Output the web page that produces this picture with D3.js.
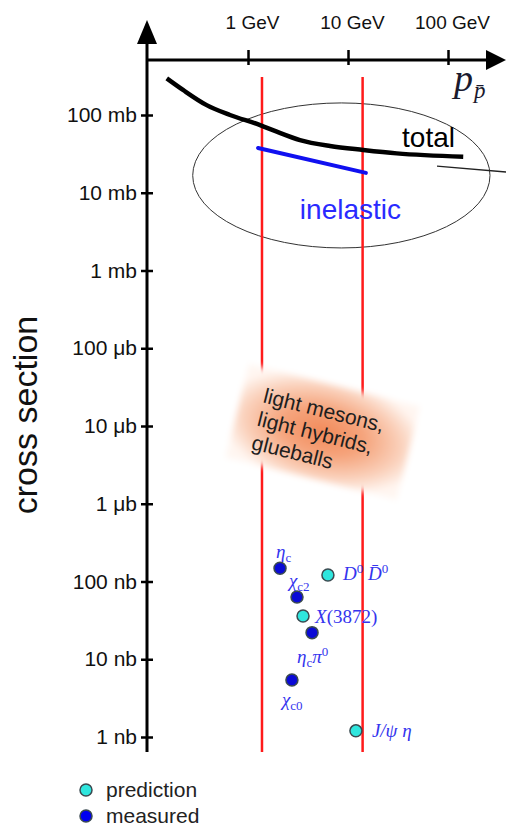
<!DOCTYPE html>
<html>
<head>
<meta charset="utf-8">
<script src="https://cdn.jsdelivr.net/npm/d3@7"></script>
<style>
  body { margin: 0; background: #fff; }
  svg { display: block; }
</style>
</head>
<body>
<div id="chart"></div>
<script>
// beam momentum ticks (GeV) and cross section decades (mb)
var P_TICKS = [1, 10, 100]
var P_LABELS = ["1 GeV", "10 GeV", "100 GeV"]
var S_TICKS = [100, 10, 1, 0.1, 0.01, 0.001, 1e-4, 1e-5, 1e-6]
var S_LABELS = ["100 mb", "10 mb", "1 mb", "100 μb", "10 μb", "1 μb", "100 nb", "10 nb", "1 nb"]

// total p-pbar cross section (p in GeV, sigma in mb)
var TOTAL_P = [0.154, 0.224, 0.386, 0.661, 1.32, 1.94, 3.31, 6.61, 14.2, 30.7, 142]
var TOTAL_S = [296, 210, 134, 100, 74.3, 61, 47.6, 39.9, 35.5, 32.1, 29.1]

// inelastic part over the momentum range
var INEL_P = [1.26, 15.1]
var INEL_S = [37.6, 18]

// momentum range (red lines), drawn from sigma top to bottom
var RANGE_P = [1.38, 14]
var RANGE_S = [308, 6.4e-7]

// charmonium channels (sigma in nb)
var CH_P = [2.09, 3.09, 6.3, 3.55, 4.37, 2.75, 12.0]
var CH_S = [148, 63, 121, 36, 22, 5.4, 1.2]
var CH_TYPE = ["measured", "measured", "prediction", "prediction", "measured", "measured", "prediction"]
var CH_LABELS = [
  [["η", "i"], ["c", "sub"]],
  [["χ", "i"], ["c2", "sub"]],
  [["D", "i"], ["0", "sup"], [" D̄", "i"], ["0", "sup"]],
  [["X", "i"], ["(3872)", "n"]],
  [["η", "i"], ["c", "sub"], ["π", "i"], ["0", "sup"]],
  [["χ", "i"], ["c0", "sub"]],
  [["J/ψ η", "i"]]
]
// label offset from its point (px)
var CH_OFFSET = [[-4, -10], [-8, -10], [15, 5], [12, 7], [-15, 30], [-10, 26], [16, 6]]

var LEGEND = ["prediction", "measured"]
var BLOB_TEXT = ["light mesons,", "light hybrids,", "glueballs"]

var width = 506, height = 827
var colors = {measured: "#0a0ad6", prediction: "#2fe6de"}

var svg = d3.select("#chart").append("svg")
  .attr("width", width)
  .attr("height", height)
  .style("font-family", "'Liberation Sans', Arial, sans-serif")

var x = d3.scaleLog().domain([0.1, 100]).range([148, 448])
var y = d3.scaleLog().domain([1e-6, 100]).range([737, 115])
var nb = function(v) { return y(v * 1e-6) }

var defs = svg.append("defs")
var grad = defs.append("radialGradient").attr("id", "glow")
  .attr("r", "60%")
grad.append("stop").attr("offset", "0%").attr("stop-color", "#f28a5a")
grad.append("stop").attr("offset", "40%").attr("stop-color", "#f5a47c")
grad.append("stop").attr("offset", "75%").attr("stop-color", "#fad0ba")
grad.append("stop").attr("offset", "100%").attr("stop-color", "#fff6f1")
defs.append("filter").attr("id", "soft")
  .attr("x", "-20%").attr("y", "-20%").attr("width", "140%").attr("height", "140%")
  .append("feGaussianBlur").attr("stdDeviation", 3)

// ellipse around the hadronic cross sections
var ex0 = x(0.28), ex1 = x(263), ey0 = y(143), ey1 = y(1.95)
svg.append("ellipse")
  .attr("cx", (ex0 + ex1) / 2).attr("cy", (ey0 + ey1) / 2)
  .attr("rx", (ex1 - ex0) / 2).attr("ry", (ey1 - ey0) / 2)
  .attr("fill", "none").attr("stroke", "#333").attr("stroke-width", 1)

svg.append("line")
  .attr("x1", x(77.6)).attr("y1", y(22))
  .attr("x2", x(380)).attr("y2", y(18.5))
  .attr("stroke", "#222").attr("stroke-width", 1.3)

// red momentum range lines
svg.selectAll("line.range")
  .data(RANGE_P)
  .enter().append("line")
  .attr("class", "range")
  .attr("x1", function(d) { return x(d) }).attr("x2", function(d) { return x(d) })
  .attr("y1", y(RANGE_S[0])).attr("y2", y(RANGE_S[1]))
  .attr("stroke", "#ff1a1a").attr("stroke-width", 2.5)

// light mesons blob (sits on top of the red lines)
var blob = svg.append("g")
  .attr("transform", "translate(" + x(5.6) + "," + y(0.0084) + ") rotate(14)")
blob.append("rect")
  .attr("x", -88).attr("y", -48).attr("width", 176).attr("height", 96)
  .attr("fill", "url(#glow)").attr("filter", "url(#soft)")
blob.selectAll("text.blob")
  .data(BLOB_TEXT)
  .enter().append("text")
  .attr("class", "blob")
  .attr("x", -66)
  .attr("y", function(d, i) { return -14 + i * 24 })
  .attr("font-size", 21)
  .attr("fill", "#1e1e1e")
  .text(function(d) { return d })

// total cross section
var line = d3.line()
  .x(function(d) { return x(d[0]) })
  .y(function(d) { return y(d[1]) })
  .curve(d3.curveMonotoneX)
svg.append("path")
  .datum(TOTAL_P.map(function(p, i) { return [p, TOTAL_S[i]] }))
  .attr("d", line)
  .attr("fill", "none").attr("stroke", "#000").attr("stroke-width", 4.5)

svg.append("path")
  .datum(INEL_P.map(function(p, i) { return [p, INEL_S[i]] }))
  .attr("d", d3.line().x(function(d) { return x(d[0]) }).y(function(d) { return y(d[1]) }))
  .attr("fill", "none").attr("stroke", "#1010f0").attr("stroke-width", 4)
  .attr("stroke-linecap", "round")

svg.append("text")
  .attr("x", x(34.7)).attr("y", y(38.7))
  .attr("font-size", 28).attr("fill", "#000")
  .text("total")
svg.append("text")
  .attr("x", x(3.3)).attr("y", y(4.6))
  .attr("font-size", 28).attr("fill", "#2a2aff")
  .text("inelastic")

// top axis
var gx = svg.append("g")
  .attr("transform", "translate(0,60)")
  .style("font-family", "'Liberation Sans', Arial, sans-serif")
  .call(d3.axisTop(x).tickValues(P_TICKS)
    .tickFormat(function(d, i) { return P_LABELS[i] })
    .tickSizeInner(10).tickSizeOuter(0).tickPadding(21))
gx.select(".domain").remove()
gx.selectAll(".tick line").attr("y1", 5).attr("stroke", "#000").attr("stroke-width", 2.5)
gx.selectAll(".tick text").attr("font-size", 19).attr("fill", "#111").attr("dx", 4)

// left axis
var gy = svg.append("g")
  .attr("transform", "translate(147,0)")
  .style("font-family", "'Liberation Sans', Arial, sans-serif")
  .call(d3.axisLeft(y).tickValues(S_TICKS)
    .tickFormat(function(d, i) { return S_LABELS[i] })
    .tickSizeInner(6).tickSizeOuter(0).tickPadding(4))
gy.select(".domain").remove()
gy.selectAll(".tick line").attr("x1", 6).attr("stroke", "#000").attr("stroke-width", 2.5)
gy.selectAll(".tick text").attr("font-size", 21).attr("fill", "#111")

// axis lines with arrow heads
svg.append("line").attr("x1", 147).attr("y1", 60).attr("x2", 492).attr("y2", 60)
  .attr("stroke", "#000").attr("stroke-width", 3)
svg.append("path").attr("d", "M506,60 L486,50 L486,70 Z").attr("fill", "#000")
svg.append("line").attr("x1", 147).attr("y1", 36).attr("x2", 147).attr("y2", 752)
  .attr("stroke", "#000").attr("stroke-width", 3)
svg.append("path").attr("d", "M147,20 L137,44 L157,44 Z").attr("fill", "#000")

// p_pbar label
var pl = svg.append("text")
  .attr("x", 454).attr("y", 91)
  .attr("font-family", "'Liberation Serif', 'Times New Roman', serif")
  .attr("font-style", "italic").attr("fill", "#1a1a2e")
pl.append("tspan").attr("font-size", 38).text("p")
pl.append("tspan").attr("font-size", 23).attr("dy", 7).attr("dx", 1).text("p̄")

svg.append("text")
  .attr("transform", "translate(37,415) rotate(-90)")
  .attr("text-anchor", "middle")
  .attr("font-size", 34).attr("fill", "#111")
  .text("cross section")

// channels
svg.selectAll("circle.ch")
  .data(CH_P)
  .enter().append("circle")
  .attr("class", "ch")
  .attr("cx", function(d) { return x(d) })
  .attr("cy", function(d, i) { return nb(CH_S[i]) })
  .attr("r", 6)
  .attr("fill", function(d, i) { return colors[CH_TYPE[i]] })
  .attr("stroke", "#3a4a50").attr("stroke-width", 1.5)

CH_LABELS.forEach(function(parts, i) {
  var t = svg.append("text")
    .attr("x", x(CH_P[i]) + CH_OFFSET[i][0])
    .attr("y", nb(CH_S[i]) + CH_OFFSET[i][1])
    .attr("font-family", "'Liberation Serif', 'Times New Roman', serif")
    .attr("font-size", 19).attr("fill", "#3434ee")
  var shift = 0
  parts.forEach(function(p) {
    var s = t.append("tspan").text(p[0])
    var want = p[1] == "sub" ? 4 : p[1] == "sup" ? -7 : 0
    s.attr("dy", want - shift)
    shift = want
    if (p[1] == "sub" || p[1] == "sup") s.attr("font-size", 13)
    if (p[1] == "i") s.attr("font-style", "italic")
  })
})

// legend
var lg = svg.selectAll("g.legend")
  .data(LEGEND)
  .enter().append("g")
  .attr("class", "legend")
  .attr("transform", function(d, i) { return "translate(86," + (790 + i * 26) + ")" })
lg.append("circle").attr("r", 6)
  .attr("fill", function(d) { return d == "prediction" ? colors.prediction : "#0000f0" })
  .attr("stroke", "#3a4a50").attr("stroke-width", 1.5)
lg.append("text").attr("x", 20).attr("y", 7)
  .attr("font-size", 21).attr("fill", "#222")
  .text(function(d) { return d })
</script>
</body>
</html>
